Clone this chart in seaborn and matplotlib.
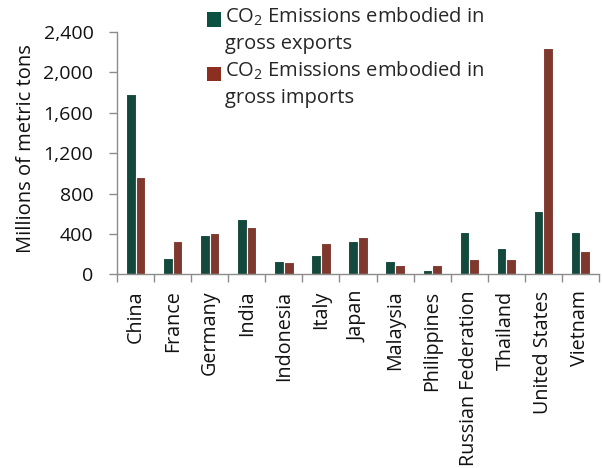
import matplotlib
matplotlib.use("Agg")
import matplotlib.pyplot as plt
from matplotlib.patches import Rectangle
from matplotlib.legend_handler import HandlerPatch
import seaborn as sns
import pandas as pd
import numpy as np

countries = ["China", "France", "Germany", "India", "Indonesia", "Italy", "Japan",
             "Malaysia", "Philippines", "Russian Federation", "Thailand",
             "United States", "Vietnam"]
exports = [1785, 165, 395, 550, 135, 191, 331, 133, 44, 423, 265, 627, 423]
imports = [961, 336, 408, 474, 128, 309, 370, 91, 94, 153, 153, 2245, 229]
series = ["CO$_2$ Emissions embodied in\ngross exports",
          "CO$_2$ Emissions embodied in\ngross imports"]
colors = ["#0a5141", "#8c2e20"]
y_ticks = [0, 400, 800, 1200, 1600, 2000, 2400]

sns.set_theme(style="white")
plt.rcParams["font.family"] = ["Open Sans", "DejaVu Sans"]
plt.rcParams["mathtext.fontset"] = "custom"
plt.rcParams["mathtext.rm"] = "Open Sans"
plt.rcParams["mathtext.it"] = "Open Sans"

df = pd.DataFrame({
    "country": countries * 2,
    "value": exports + imports,
    "series": [series[0]] * len(countries) + [series[1]] * len(countries),
})

fig = plt.figure(figsize=(6.02, 4.68), dpi=100)
ax = fig.add_axes([0.1944, 0.4135, 0.8006, 0.5181])

sns.barplot(data=df, x="country", y="value", hue="series", order=countries,
            hue_order=series, palette=colors, width=0.52, edgecolor="white",
            linewidth=0.8, ax=ax, legend=False)

ax.set_xlim(-0.5, len(countries) - 0.5)
ax.set_ylim(0, 2400)
ax.set_yticks(y_ticks)
ax.set_yticklabels([f"{v:,}" for v in y_ticks])
ax.set_xlabel("")
ax.set_ylabel("Millions of metric tons", fontsize=14.5, color="#111111",
              labelpad=5.5, y=0.518)

ax.tick_params(axis="y", labelsize=14, length=6, width=1, color="#8c8c8c",
               pad=11, direction="out", left=True, labelcolor="#111111")
ax.set_xticks(np.arange(len(countries)))
ax.set_xticklabels(countries, rotation=90)
ax.tick_params(axis="x", which="major", length=0, pad=11.5, labelsize=14.2,
               labelcolor="#111111")
ax.set_xticks(np.arange(-0.5, len(countries)), minor=True)
ax.tick_params(axis="x", which="minor", length=6, width=1, color="#8c8c8c",
               direction="out", bottom=True)

for side in ["top", "right"]:
    ax.spines[side].set_visible(False)
for side in ["left", "bottom"]:
    ax.spines[side].set_color("#8c8c8c")
    ax.spines[side].set_linewidth(1)


def top_square(legend, orig_handle, xdescent, ydescent, width, height, fontsize):
    # square aligned with the first line of a two-line label
    s = 0.7 * fontsize
    return Rectangle((-xdescent, -ydescent + height - s + 0.15 * fontsize), s, s)


handles = [Rectangle((0, 0), 1, 1, facecolor=c, edgecolor="none") for c in colors]
leg = fig.legend(handles, series, loc="upper left", bbox_to_anchor=(0.3405, 0.992),
                 frameon=False, fontsize=14.5, handlelength=0.7, handleheight=2.0,
                 handletextpad=0.2, labelspacing=0.3, borderaxespad=0.0,
                 borderpad=0.1,
                 handler_map={Rectangle: HandlerPatch(patch_func=top_square)})
for t in leg.get_texts():
    t.set_linespacing(1.4)

fig.savefig("out.png", dpi=100)
